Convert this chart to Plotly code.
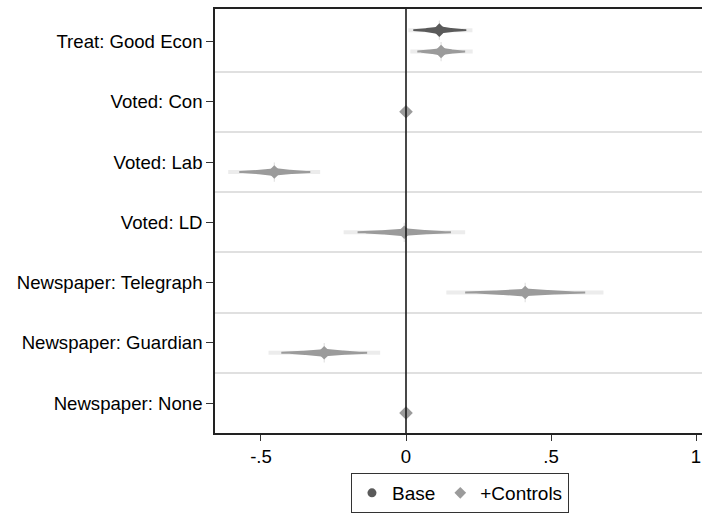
import numpy as np
import plotly.graph_objects as go

# ---------------- data ----------------
labels = ["Treat: Good Econ", "Voted: Con", "Voted: Lab", "Voted: LD",
          "Newspaper: Telegraph", "Newspaper: Guardian", "Newspaper: None"]

# Base model: only the treatment coefficient
base_est = [0.115]
base_lo95 = [0.025]
base_hi95 = [0.208]
base_lo99 = [0.008]
base_hi99 = [0.229]

# +Controls model
ctrl_est = [0.121, 0.0, -0.454, -0.006, 0.411, -0.282, 0.0]
ctrl_lo95 = [0.039, 0.0, -0.575, -0.167, 0.204, -0.430, 0.0]
ctrl_hi95 = [0.204, 0.0, -0.330, 0.155, 0.618, -0.134, 0.0]
ctrl_lo99 = [0.015, 0.0, -0.613, -0.215, 0.139, -0.474, 0.0]
ctrl_hi99 = [0.230, 0.0, -0.296, 0.204, 0.681, -0.089, 0.0]

xtick_vals = [-0.5, 0, 0.5, 1]
xtick_text = ["-.5", "0", ".5", "1"]

# ---------------- styling ----------------
BASE_COL = "#5a5a5a"
CTRL_COL = "#9b9b9b"
LIGHT_COL = "#ececec"
SPIKE_COL = "#e2e2e2"
FONT = "Liberation Sans, Arial, Helvetica, sans-serif"
PX_PER_ROW = 60.4
rows = list(range(1, len(labels) + 1))
BASE_OFF = -0.19
CTRL_OFF = 0.165

fig = go.Figure()


def add_spindle(est, lo95, hi95, lo99, hi99, y, col):
    if hi99 - lo99 <= 0:
        return
    # light 99% band
    fig.add_trace(go.Scatter(x=[lo99, hi99], y=[y, y], mode="lines",
                             line=dict(color=LIGHT_COL, width=4),
                             hoverinfo="skip", showlegend=False))
    # small vertical spike at the estimate
    fig.add_trace(go.Scatter(x=[est, est], y=[y - 0.16, y + 0.16], mode="lines",
                             line=dict(color=SPIKE_COL, width=1.2),
                             hoverinfo="skip", showlegend=False))
    # tapered 95% spindle
    se = (hi95 - lo95) / (2 * 1.96)
    xs = np.linspace(lo95, hi95, 121)
    z = (xs - est) / se
    half_px = 0.9 + 2.8 * np.exp(-z ** 2 / 1.0)
    half = half_px / PX_PER_ROW
    px = np.concatenate([xs, xs[::-1]])
    py = np.concatenate([y - half, (y + half)[::-1]])
    fig.add_trace(go.Scatter(x=px, y=py, mode="lines", fill="toself",
                             fillcolor=col, line=dict(width=0, color=col),
                             hoverinfo="skip", showlegend=False))


for i in range(len(base_est)):
    add_spindle(base_est[i], base_lo95[i], base_hi95[i], base_lo99[i], base_hi99[i],
                rows[i] + BASE_OFF, BASE_COL)
for i in range(len(ctrl_est)):
    add_spindle(ctrl_est[i], ctrl_lo95[i], ctrl_hi95[i], ctrl_lo99[i], ctrl_hi99[i],
                rows[i] + CTRL_OFF, CTRL_COL)

# point estimates
fig.add_trace(go.Scatter(x=base_est, y=[r + BASE_OFF for r in rows[:len(base_est)]],
                         mode="markers", marker=dict(symbol="diamond", size=10.5, color=BASE_COL),
                         showlegend=False, hoverinfo="x"))
fig.add_trace(go.Scatter(x=ctrl_est, y=[r + CTRL_OFF for r in rows],
                         mode="markers", marker=dict(symbol="diamond", size=10.5, color=CTRL_COL),
                         showlegend=False, hoverinfo="x"))

# legend-only entries
fig.add_trace(go.Scatter(x=[None], y=[None], mode="markers", name="Base",
                         marker=dict(symbol="circle", size=9, color=BASE_COL)))
fig.add_trace(go.Scatter(x=[None], y=[None], mode="markers", name="+Controls",
                         marker=dict(symbol="diamond", size=9, color=CTRL_COL)))

fig.add_vline(x=0, line=dict(color="#1a1a1a", width=1.6), layer="above")

fig.update_layout(
    width=702, height=513,
    margin=dict(l=215, r=0, t=9, b=79),
    paper_bgcolor="white", plot_bgcolor="white",
    font=dict(family=FONT, size=18.6, color="black"),
    showlegend=True,
    legend=dict(orientation="h", x=0.503, xanchor="center", y=-0.095, yanchor="top",
                bordercolor="#333333", borderwidth=1, font=dict(size=19),
                itemsizing="trace"),
)
fig.update_xaxes(range=[-0.6586, 1.0207], tickvals=xtick_vals, ticktext=xtick_text,
                 ticks="outside", ticklen=6, tickcolor="#333333", tickwidth=1,
                 showline=True, linecolor="#222222", linewidth=1.5, mirror=True,
                 showgrid=False, zeroline=False)
fig.update_yaxes(range=[7.497, 0.459], tickvals=rows, ticktext=labels,
                 ticks="outside", ticklen=7, tickcolor="#333333", tickwidth=1,
                 showline=True, linecolor="#222222", linewidth=1.5,
                 showgrid=False, zeroline=False,
                 minor=dict(tickvals=[r + 0.5 for r in rows[:-1]], showgrid=True,
                            gridcolor="#e0e0e0", gridwidth=2, ticks=""))

fig.write_html("out.html")
